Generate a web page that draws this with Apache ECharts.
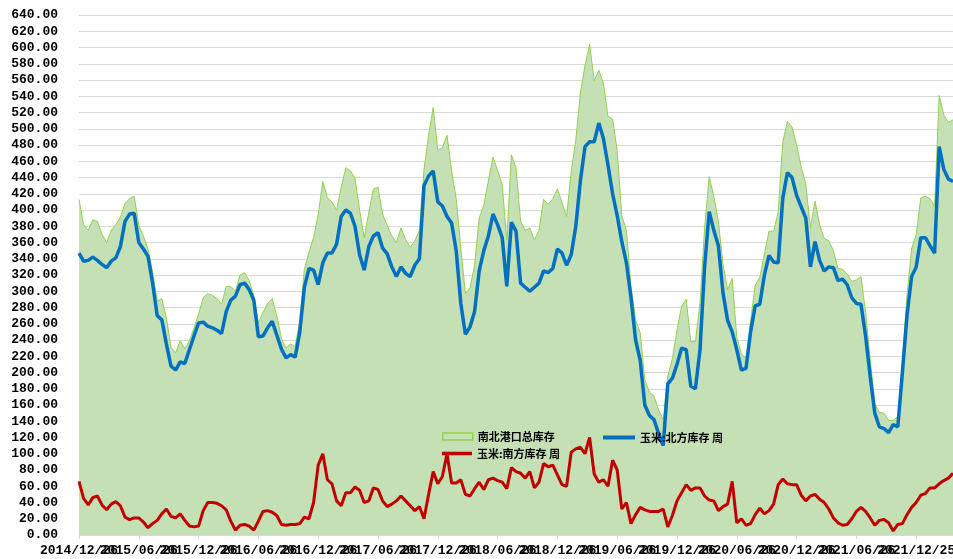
<!DOCTYPE html>
<html>
<head>
<meta charset="utf-8">
<script src="https://cdn.jsdelivr.net/npm/echarts/dist/echarts.min.js"></script>
<style>
html,body{margin:0;padding:0;background:#fff;}
#chart{width:953px;height:559px;}
</style>
</head>
<body>
<div id="chart"></div>
<script>
// Tick labels shown every 26 weeks
const tickLabels = ['2014/12/26','2015/06/26','2015/12/26','2016/06/26','2016/12/26','2017/06/26','2017/12/26','2018/06/26','2018/12/26','2019/06/26','2019/12/26','2020/06/26','2020/12/26','2021/06/26','2021/12/25'];

// Series names
const nameTotal = '南北港口总库存';
const nameNorth = '玉米:北方库存 周';
const nameSouth = '玉米:南方库存 周';

// 玉米:北方库存 周 (bi-weekly samples)
const north = [
347,337,338,342,338,333,329,337,341,355,
386,395,396,360,352,343,310,270,265,235,
208,203,213,211,228,245,261,262,257,255,
252,248,275,289,294,308,310,302,289,244,
245,255,263,246,229,218,222,219,250,305,
328,326,308,335,347,347,358,392,400,396,
380,345,326,355,368,372,353,346,330,318,
330,322,318,332,340,430,442,448,410,405,
392,384,350,285,247,256,275,325,350,368,
395,382,366,306,385,374,310,305,300,305,
310,325,323,328,352,347,332,345,380,436,
478,484,484,507,488,455,420,393,361,335,
292,240,215,160,147,142,125,110,186,193,
210,230,228,183,180,228,330,398,375,356,
298,264,250,228,203,205,250,282,284,320,
344,336,335,415,446,440,418,404,390,330,
361,338,325,330,329,313,315,308,292,285,
284,245,195,150,133,131,126,136,133,200,
270,318,330,366,366,356,347,478,450,438,
435
];

// 玉米:南方库存 周
const south = [
66,45,37,46,48,37,31,38,41,36,
22,19,21,21,16,9,14,18,26,32,
23,21,26,18,11,10,11,30,40,40,
39,36,31,17,6,12,13,11,6,17,
29,30,28,24,13,12,13,13,14,22,
20,40,86,100,68,63,42,36,52,52,
59,55,40,42,58,56,42,35,38,42,
48,42,36,30,35,20,50,78,63,72,
100,64,64,68,50,48,57,65,56,68,
70,67,65,57,83,78,76,70,78,58,
65,88,84,86,74,62,60,102,106,108,
100,120,75,65,68,60,92,80,32,40,
14,25,34,31,29,29,29,32,10,24,
42,52,62,55,58,58,48,43,42,30,
35,38,66,15,20,12,14,25,33,26,
30,38,62,69,63,62,62,49,42,48,
50,44,40,32,21,15,12,13,20,29,
34,29,21,12,18,19,15,5,13,14,
25,34,40,49,51,58,58,63,67,70,
76
];

// 南北港口总库存
const total = [
413,382,375,388,386,370,360,375,382,391,
408,414,417,381,368,352,324,288,291,267,
231,224,239,229,239,255,272,292,297,295,
291,284,306,306,300,320,323,313,295,261,
274,285,291,270,242,230,235,232,264,327,
348,366,394,435,415,410,400,428,452,448,
439,400,366,397,426,428,395,381,368,360,
378,364,354,362,375,450,492,526,473,477,
492,448,414,353,297,304,332,390,406,436,
465,449,431,363,468,452,386,375,378,363,
375,413,407,414,426,409,392,447,486,544,
578,604,559,572,556,515,512,473,393,375,
306,265,249,191,176,171,154,142,196,217,
252,282,290,238,238,286,378,441,417,386,
333,302,316,243,223,217,264,307,317,346,
374,374,397,484,509,502,480,453,432,378,
411,382,365,362,350,328,327,321,312,314,
318,274,216,162,151,150,141,141,146,214,
295,352,370,415,417,414,405,541,517,508,
511
];

// Category dates (every two weeks from the first date)
const categories = [];
(function(){
  const start = Date.UTC(2014, 11, 26);
  for (let i = 0; i < north.length; i++) {
    const d = new Date(start + i * 14 * 86400000);
    const m = String(d.getUTCMonth() + 1).padStart(2, '0');
    const dd = String(d.getUTCDate()).padStart(2, '0');
    categories.push(d.getUTCFullYear() + '/' + m + '/' + dd);
  }
})();

const labelStep = 13;
const monoFont = '"Liberation Mono", "DejaVu Sans Mono", monospace';
const cjkFont = '"Noto Sans CJK SC", sans-serif';

const chart = echarts.init(document.getElementById('chart'), null, {renderer: 'canvas'});

const legendText = {fontFamily: cjkFont, fontSize: 11, fontWeight: 'bold', color: '#000'};

// Labels are split over two stacked axes (even / odd ticks) so that the
// overlapping date labels are all drawn, as in the reference.
function makeLabelFormatter(parity) {
  return function (val, idx) {
    if (idx % labelStep !== 0) return '';
    const k = idx / labelStep;
    if (k % 2 !== parity) return '';
    return tickLabels[k] || '';
  };
}

const labelBase = {
  interval: 0,
  margin: 9,
  fontFamily: monoFont,
  fontSize: 13,
  fontWeight: 'bold',
  color: '#000',
  hideOverlap: false
};

chart.setOption({
  animation: false,
  backgroundColor: '#ffffff',
  grid: {left: 79, right: 0, top: 15, bottom: 24, containLabel: false, outerBoundsMode: 'none'},
  legend: [
    {
      left: 442, top: 431, padding: 0, itemWidth: 30, itemHeight: 7,
      data: [{name: nameTotal, icon: 'rect', itemStyle: {color: '#C5E0B4', borderColor: '#92D050', borderWidth: 1.5}}],
      textStyle: legendText
    },
    {
      left: 603, top: 432, padding: 0, itemWidth: 32, itemHeight: 4,
      data: [{name: nameNorth, icon: 'rect', itemStyle: {color: '#0070C0', borderWidth: 0}}],
      textStyle: legendText
    },
    {
      left: 442, top: 448, padding: 0, itemWidth: 30, itemHeight: 3.5,
      data: [{name: nameSouth, icon: 'rect', itemStyle: {color: '#C00000', borderWidth: 0}}],
      textStyle: legendText
    }
  ],
  xAxis: [
    {
      type: 'category',
      data: categories,
      boundaryGap: false,
      position: 'bottom',
      axisLine: {show: true, lineStyle: {color: '#d9d9d9', width: 1}},
      axisTick: {show: true, interval: labelStep - 1, length: 4, lineStyle: {color: '#d9d9d9'}},
      axisLabel: Object.assign({}, labelBase, {formatter: makeLabelFormatter(0)}),
      splitLine: {show: false}
    },
    {
      type: 'category',
      data: categories,
      boundaryGap: false,
      position: 'bottom',
      offset: 0,
      axisLine: {show: false},
      axisTick: {show: false},
      axisLabel: Object.assign({}, labelBase, {formatter: makeLabelFormatter(1)}),
      splitLine: {show: false}
    }
  ],
  yAxis: {
    type: 'value',
    min: 0, max: 640, interval: 20,
    axisLine: {show: false},
    axisTick: {show: false},
    axisLabel: {
      margin: 21,
      fontFamily: monoFont,
      fontSize: 13,
      fontWeight: 'bold',
      color: '#000',
      formatter: function (v) { return v.toFixed(2); }
    },
    splitLine: {show: true, lineStyle: {color: '#d9d9d9', width: 1}}
  },
  series: [
    {
      name: nameTotal,
      type: 'line',
      data: total,
      symbol: 'none',
      lineStyle: {color: '#92D050', width: 1},
      itemStyle: {color: '#C5E0B4'},
      areaStyle: {color: '#C5E0B4', opacity: 1},
      z: 1
    },
    {
      name: nameNorth,
      type: 'line',
      data: north,
      symbol: 'none',
      lineStyle: {color: '#0070C0', width: 3.5},
      itemStyle: {color: '#0070C0'},
      z: 3
    },
    {
      name: nameSouth,
      type: 'line',
      data: south,
      symbol: 'none',
      lineStyle: {color: '#C00000', width: 3},
      itemStyle: {color: '#C00000'},
      z: 2
    }
  ]
});
</script>
</body>
</html>
